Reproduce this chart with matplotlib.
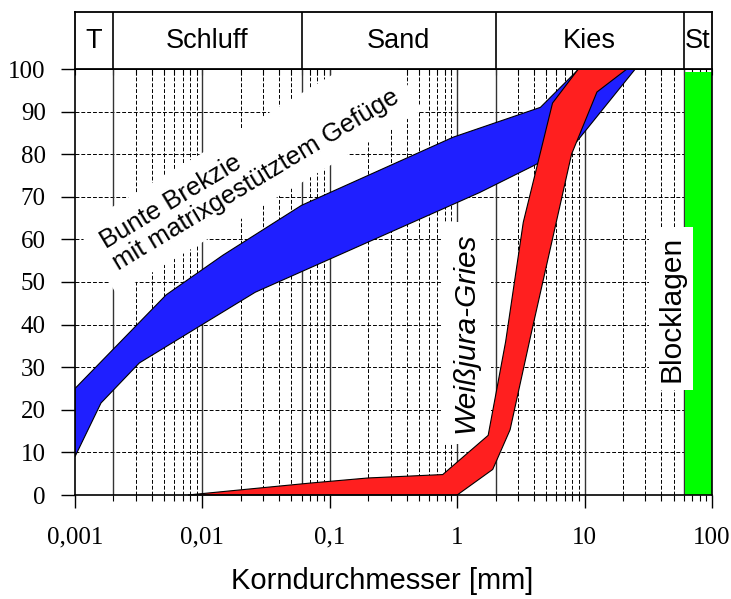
import matplotlib
matplotlib.use('Agg')
import matplotlib.pyplot as plt
import numpy as np
from matplotlib.ticker import FixedLocator, NullFormatter, FixedFormatter

# ---------------- data ----------------
x_ticks = [0.001, 0.01, 0.1, 1, 10, 100]
x_tick_labels = ['0,001', '0,01', '0,1', '1', '10', '100']
y_ticks = list(range(0, 101, 10))

fraction_bounds = [0.001, 0.002, 0.06, 2, 60, 100]
fraction_names = ['T', 'Schluff', 'Sand', 'Kies', 'St']

# Bunte Brekzie band
brekzie_upper_x = [0.001, 0.0052, 0.0145, 0.06, 0.93, 4.5, 9, 25]
brekzie_upper_y = [25, 47, 56.3, 68, 84, 91, 100, 100]
brekzie_lower_x = [0.001, 0.0016, 0.0032, 0.026, 1.5, 4.1, 8.7, 25]
brekzie_lower_y = [9, 21.6, 31, 47.6, 71, 77.5, 83, 100]

# Weissjura-Gries band
gries_upper_x = [0.0077, 0.07, 0.2, 0.77, 1.75, 2.4, 3.3, 5.6, 9.2, 21.5]
gries_upper_y = [0, 2.8, 4.0, 4.8, 14, 36, 64, 92, 100.5, 100]
gries_lower_x = [0.0077, 1.0, 1.9, 2.6, 3.75, 5.35, 7.9, 12.5, 21.5]
gries_lower_y = [0, 0, 6, 15.3, 37, 57.5, 80, 94.6, 100]

# Blocklagen
block_x = [61.5, 100]
block_y = [0, 99.3]

SANS = ['Liberation Sans', 'DejaVu Sans']
SERIF = ['Liberation Serif', 'DejaVu Serif']

# ---------------- figure ----------------
W, H = 731, 599
fig = plt.figure(figsize=(W / 100, H / 100), dpi=100)
L, R = 75 / W, 712 / W
B, T = (H - 495) / H, (H - 69) / H
TOPB = (H - 12) / H

ax = fig.add_axes([L, B, R - L, T - B])
ax.set_xscale('log')
ax.set_xlim(0.001, 100)
ax.set_ylim(0, 100)

# grid
dash = (0, (4, 2))
for yv in y_ticks[1:-1]:
    ax.axhline(yv, color='black', lw=0.7, ls=dash, zorder=1)
solid_bounds = fraction_bounds[1:-1]
for d in x_ticks[:-1]:
    for m in range(1, 10):
        xv = m * d
        if xv <= 0.001 * 1.0001:
            continue
        if m == 1 or any(np.isclose(xv, sb) for sb in solid_bounds):
            ax.axvline(xv, color='#333333', lw=1.0, ls='-', zorder=1)
        else:
            ax.axvline(xv, color='black', lw=0.7, ls=dash, zorder=1)

# bands
bx = brekzie_upper_x + brekzie_lower_x[::-1]
by = brekzie_upper_y + brekzie_lower_y[::-1]
ax.fill(bx, by, facecolor='#1f1fff', edgecolor='black', lw=0.8, zorder=3)

gx = gries_upper_x + gries_lower_x[::-1]
gy = gries_upper_y + gries_lower_y[::-1]
ax.fill(gx, gy, facecolor='#ff1f1f', edgecolor='black', lw=0.8, zorder=4, clip_on=False)

ax.fill_between(block_x, block_y[0], block_y[1], facecolor='#00ff00', lw=0, zorder=3)

# texts
ax.text(0.0235, 76.5, 'Bunte Brekzie\nmit matrixgestütztem Gefüge', rotation=31,
        rotation_mode='anchor', ha='center', va='center', multialignment='left',
        fontsize=18.5, family=SANS, linespacing=1.05, zorder=2,
        bbox=dict(facecolor='white', edgecolor='none', pad=10))
ax.text(1.17, 38, 'Weißjura-Gries', rotation=90, rotation_mode='anchor',
        ha='center', va='center', fontsize=21.5, style='italic', family=SANS, zorder=2,
        bbox=dict(facecolor='white', edgecolor='none', pad=8))
ax.text(47.7, 43.7, 'Blocklagen', rotation=90, rotation_mode='anchor',
        ha='center', va='center', fontsize=21.5, family=SANS, zorder=6,
        bbox=dict(facecolor='white', edgecolor='none', pad=6))

# ticks
ax.xaxis.set_major_locator(FixedLocator(x_ticks))
ax.xaxis.set_major_formatter(FixedFormatter(x_tick_labels))
minors = [m * d for d in x_ticks[:-1] for m in range(2, 10)]
ax.xaxis.set_minor_locator(FixedLocator(minors))
ax.xaxis.set_minor_formatter(NullFormatter())
ax.set_yticks(y_ticks)
ax.tick_params(axis='x', which='major', direction='out', length=9, width=1.0, pad=14)
ax.tick_params(axis='x', which='minor', direction='out', length=4.5, width=0.8)
ax.tick_params(axis='y', which='major', direction='out', length=10, width=1.0, pad=11)
for lab in ax.get_xticklabels() + ax.get_yticklabels():
    lab.set_fontfamily(SERIF)
    lab.set_fontsize(18)
for sp in ax.spines.values():
    sp.set_linewidth(1.2)
    sp.set_zorder(7)

sec = ax.secondary_xaxis('top')
sec.xaxis.set_major_locator(FixedLocator(x_ticks))
sec.xaxis.set_minor_locator(FixedLocator(minors))
sec.xaxis.set_major_formatter(NullFormatter())
sec.xaxis.set_minor_formatter(NullFormatter())
sec.tick_params(which='both', direction='in', length=4, width=0.8)
sec.spines['top'].set_linewidth(1.2)

# top fraction band
axt = fig.add_axes([L, T, R - L, TOPB - T])
axt.set_xscale('log')
axt.set_xlim(0.001, 100)
axt.set_ylim(0, 1)
axt.set_xticks([])
axt.set_yticks([])
axt.minorticks_off()
axt.tick_params(which='both', length=0)
for sp in axt.spines.values():
    sp.set_linewidth(1.3)
for xb in fraction_bounds[1:-1]:
    axt.axvline(xb, color='black', lw=1.2)
for i, name in enumerate(fraction_names):
    xc = np.sqrt(fraction_bounds[i] * fraction_bounds[i + 1])
    axt.text(xc, 0.5, name, ha='center', va='center', fontsize=19.5, family=SANS)

fig.text(382 / W, 1 - 581 / H, 'Korndurchmesser [mm]', ha='center', va='center',
         fontsize=21, family=SANS)

fig.savefig('out.png', dpi=100)
